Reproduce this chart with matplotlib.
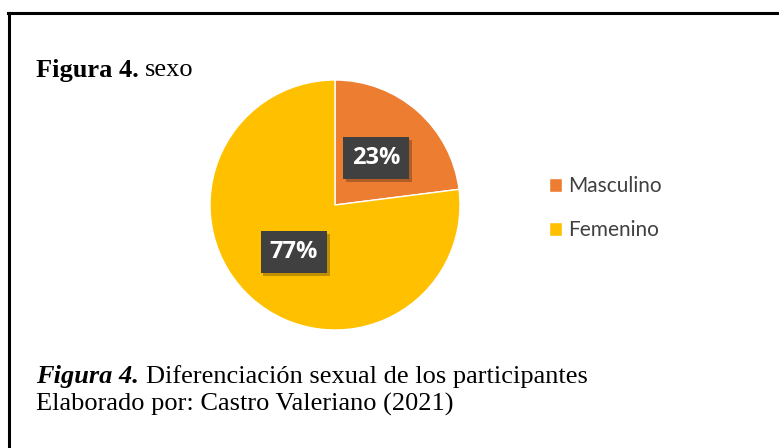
import matplotlib.pyplot as plt
import matplotlib.patheffects as pe
from matplotlib.lines import Line2D

# data
categorias = ['Masculino', 'Femenino']
porcentajes = [23, 77]
colores = ['#ED7D31', '#FFC000']

W, H = 779, 448
fig = plt.figure(figsize=(W / 100, H / 100), dpi=100)
fig.patch.set_facecolor('white')

# frame (top and left border of the document box)
fig.add_artist(Line2D([8 / W, 1.0], [1 - 13 / H, 1 - 13 / H], color='black', lw=2.2))
fig.add_artist(Line2D([9 / W, 9 / W], [1 - 13 / H, 0.0], color='black', lw=2.2))

# pie axes: center (335, 205) px, radius 125 px, limits +-1.25
cx, cy, r = 335, 205, 125
side = 2 * 1.25 * r
ax = fig.add_axes([(cx - side / 2) / W, 1 - (cy + side / 2) / H, side / W, side / H])
wedges, texts, autotexts = ax.pie(
    porcentajes, colors=colores, startangle=90, counterclock=False,
    autopct='%1.0f%%', pctdistance=0.5,
    wedgeprops=dict(edgecolor='white', linewidth=1),
    textprops=dict(color='white', fontsize=17, fontweight='bold', family='Open Sans'))
ax.set_xlim(-1.25, 1.25)
ax.set_ylim(-1.25, 1.25)
ax.set_aspect('equal')

for t in autotexts:
    t.set_bbox(dict(boxstyle='square,pad=0.38', facecolor='#404040', edgecolor='none'))
    t.get_bbox_patch().set_path_effects([
        pe.SimplePatchShadow(offset=(2, -2), shadow_rgbFace='black', alpha=0.25),
        pe.Normal()])

leg = ax.legend(wedges, categorias, loc='center left',
                bbox_to_anchor=(530 / W, 1 - 208 / H), bbox_transform=fig.transFigure,
                frameon=False, handlelength=0.65, handleheight=0.65, handletextpad=0.3,
                labelspacing=1.15, prop=dict(family='Lato', size=15))
for t in leg.get_texts():
    t.set_color('#404040')

# texts
t1 = fig.text(36 / W, 1 - 70 / H, 'Figura 4. ', family='Liberation Serif', fontweight='bold',
              fontsize=19, va='center')
fig.canvas.draw()
bb = t1.get_window_extent()
fig.text(bb.x1 / W, 1 - 70 / H, 'sexo', family='Liberation Serif', fontsize=19, va='center')

t2 = fig.text(36 / W, 1 - 377 / H, 'Figura 4. ', family='Liberation Serif', fontweight='bold',
              style='italic', fontsize=19, va='center')
fig.canvas.draw()
bb2 = t2.get_window_extent()
fig.text(bb2.x1 / W, 1 - 377 / H, 'Diferenciación sexual de los participantes',
         family='Liberation Serif', fontsize=19, va='center')
fig.text(36 / W, 1 - 404 / H, 'Elaborado por: Castro Valeriano (2021)',
         family='Liberation Serif', fontsize=19, va='center')

fig.savefig('out.png', dpi=100)
